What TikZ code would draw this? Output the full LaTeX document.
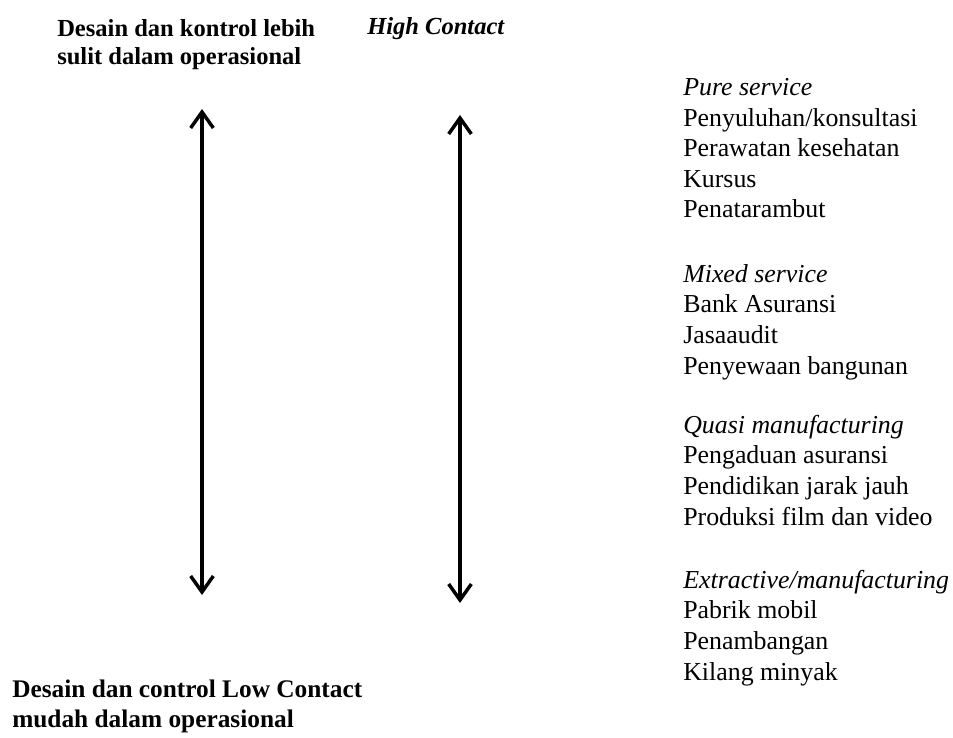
\documentclass[tikz,border=0pt]{standalone}
\usepackage{fontspec}
\setmainfont{Liberation Serif}
\usetikzlibrary{arrows.meta}
\usetikzlibrary{positioning}

\tikzset{
  headtext/.style={anchor=base west, align=left, inner sep=0pt,
    font=\fontsize{18.4}{21}\selectfont\bfseries},
  foottext/.style={headtext, font=\fontsize{19}{22.5}\selectfont\bfseries},
  listtext/.style={anchor=base west, align=left, inner sep=0pt,
    font=\fontsize{19.4}{23}\selectfont},
  contact/.style={line width=2.6pt,
    {Straight Barb[length=12pt,width=17pt]}-{Straight Barb[length=12pt,width=17pt]}}
}

\begin{document}
\begin{tikzpicture}[x=0.75pt,y=-0.75pt]
  \useasboundingbox (0,0) rectangle (953,738);
  % labels (anchored at the base of the last line)
  \node[headtext] (hard) at (57,65) {Desain dan kontrol lebih\\sulit dalam operasional};
  \node[headtext] (high) at (367,35) {\itshape High Contact};
  \node[foottext] (easy) at (12,727) {Desain dan control Low Contact\\mudah dalam operasional};
  % arrows
  \coordinate (leftTop) at (202,109);
  \coordinate (leftBot) at (202,595);
  \coordinate (midTop) at (460,115);
  \coordinate (midBot) at (460,603);
  \draw[contact] (leftTop) -- (leftBot);
  \draw[contact] (midTop) -- (midBot);
  % service types
  \node[listtext] (pure) at (683,218) {\textit{Pure service}\\Penyuluhan/konsultasi\\Perawatan kesehatan\\Kursus\\Penatarambut};
  \node[listtext] (mixed) at (683,374) {\textit{Mixed service}\\Bank Asuransi\\Jasaaudit\\Penyewaan bangunan};
  \node[listtext] (quasi) at (683,525) {\textit{Quasi manufacturing}\\Pengaduan asuransi\\Pendidikan jarak jauh\\Produksi film dan video};
  \node[listtext] (extract) at (683,680) {\textit{Extractive/manufacturing}\\Pabrik mobil\\Penambangan\\Kilang minyak};
\end{tikzpicture}
\end{document}
